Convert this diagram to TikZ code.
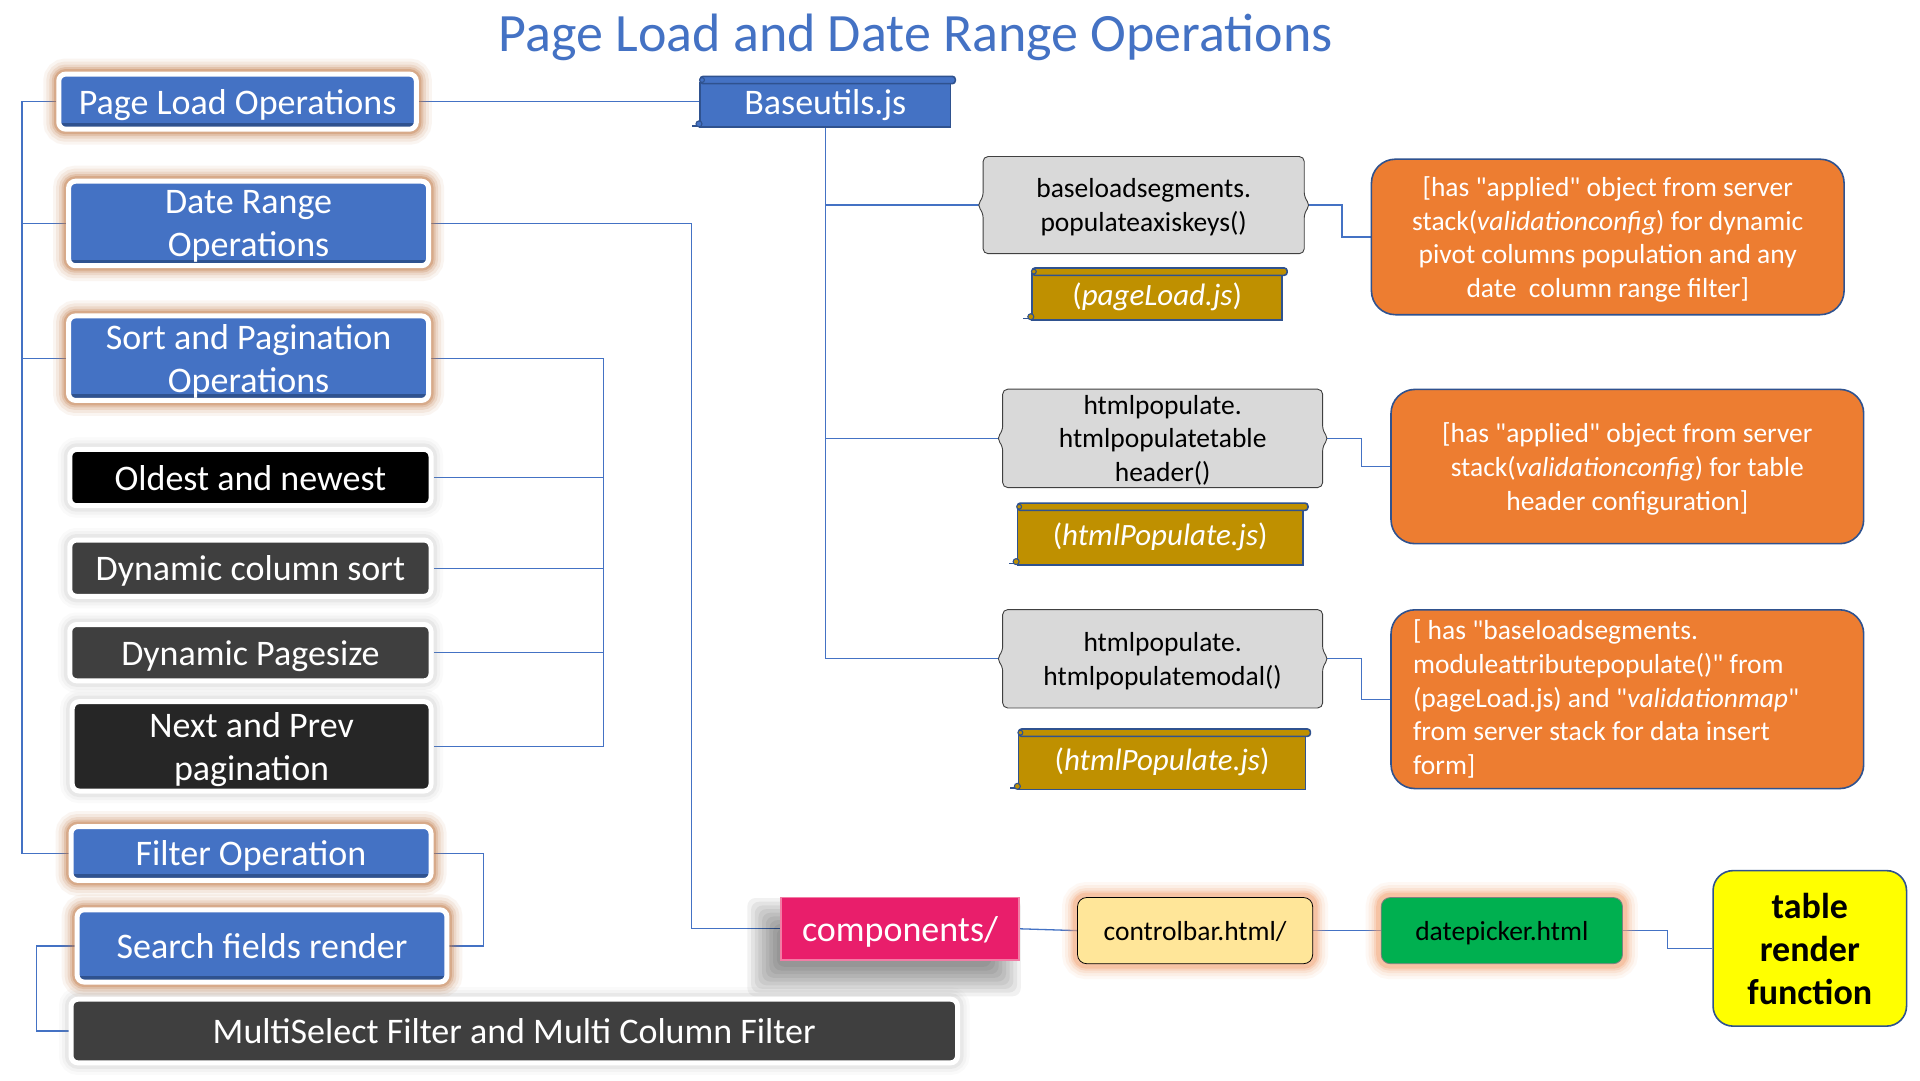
\documentclass[tikz,border=0pt]{standalone}
\usepackage{fontspec}
\setmainfont{Carlito}[Ligatures=TeXOff]
\usetikzlibrary{calc}
\newdimen\U \U=1.2245pt
\definecolor{cblue}{HTML}{4472C4}
\definecolor{cdblue}{HTML}{2F528F}
\definecolor{cglow}{HTML}{C27A45}
\definecolor{cgrayglow}{HTML}{8C8C8C}
\definecolor{cgold}{HTML}{BF9000}
\definecolor{corange}{HTML}{ED7D31}
\definecolor{cpink}{HTML}{E91E6B}
\definecolor{cpinkedge}{HTML}{F27CA5}
\definecolor{cpale}{HTML}{FFE699}
\definecolor{cpaleglow}{HTML}{F4A070}
\definecolor{cgreen}{HTML}{00B050}
\definecolor{cyellow}{HTML}{FFFF00}
\definecolor{cgrayfill}{HTML}{D9D9D9}
\definecolor{cdark}{HTML}{3F3F3F}
\definecolor{cdarker}{HTML}{262626}
\pgfdeclarelayer{connlayer}
\pgfdeclarelayer{decolayer}
\pgfsetlayers{connlayer,decolayer,main}
\newcommand\fsL{\fontsize{36}{43}\selectfont}
\newcommand\fsT{\fontsize{54}{64}\selectfont}
\newcommand\fsM{\fontsize{27.5}{33.7}\selectfont}
\newcommand\fsS{\fontsize{31}{37}\selectfont}
\newcommand\bracedraw[1]{%
  \draw[fill=cgrayfill, draw=black!75, line width=0.9pt, rounded corners=5pt]
    (#1.north west) -- (#1.north east) -- ($(#1.east)+(0,-6)$) -- ($(#1.east)+(5,0)$)
    -- ($(#1.east)+(0,6)$) -- (#1.south east) -- (#1.south west) -- ($(#1.west)+(0,6)$)
    -- ($(#1.west)+(-5,0)$) -- ($(#1.west)+(0,-6)$) -- cycle;}
\newcommand\scrolldraw[2]{%
  \draw[fill=#2, draw=cdblue, line width=1.6pt] ($(#1.north west)+(0,5)$) rectangle (#1.south east);
  \draw[fill=#2, draw=cdblue, line width=1.6pt, rounded corners=3pt] (#1.north west) rectangle ($(#1.north east)+(4,6)$);
  \draw[fill=#2, draw=cdblue, line width=1.1pt] ($(#1.north west)+(1.5,3)$) circle (2.4pt);
  \draw[draw=cdblue, line width=1.6pt] ($(#1.south west)+(0,-1)$) -- ($(#1.south west)+(-7,-1)$);
  \draw[fill=#2, draw=cdblue, line width=1.1pt] ($(#1.south west)+(-1,-2.5)$) circle (3pt);}
\tikzset{
  every node/.append style={text depth=0pt},
  conn/.style={draw=cblue, line width=1.3pt},
  glowring/.style={preaction={draw=#1, line width=31pt, draw opacity=0.07},
                   preaction={draw=#1, line width=25pt, draw opacity=0.10},
                   preaction={draw=#1, line width=19pt, draw opacity=0.15},
                   preaction={draw=#1, line width=14pt, draw opacity=0.22},
                   preaction={draw=#1, line width=10pt, draw opacity=0.32}},
  softshadow/.style={preaction={draw=#1, line width=24pt, draw opacity=0.04},
                     preaction={draw=#1, line width=18pt, draw opacity=0.06},
                     preaction={draw=#1, line width=12pt, draw opacity=0.10}},
  leftbox/.style={rectangle, rounded corners=7pt, draw=white, line width=5pt,
                  text=white, font=\fsL, align=center, inner sep=0pt},
  bluebox/.style={leftbox, glowring=cglow, fill=cblue,
    path picture={\fill[cdblue, sharp corners] ([yshift=6pt]path picture bounding box.south west) rectangle (path picture bounding box.south east);}},
  darkbox/.style={leftbox, softshadow=cgrayglow, fill=#1},
  scrollnode/.style={rectangle, draw=none, text=white, inner sep=0pt},
  bracenode/.style={rectangle, draw=none, text=black, font=\fsM, align=center, inner sep=0pt},
  obox/.style={rectangle, rounded corners=24pt, fill=corange, draw=cdblue, line width=1.6pt,
               text=white, font=\fsM, inner sep=0pt},
}
\begin{document}
\begin{tikzpicture}[x=\U, y=-\U]
\useasboundingbox (0,0) rectangle (1568,882);
\begin{pgfonlayer}{connlayer}
  \fill[white] (0,0) rectangle (1568,882);
\end{pgfonlayer}

\node[text=cblue, font=\fsT] (title) at (748,27) {Page Load and Date Range Operations};

% left column
\node[bluebox, minimum width=292*\U, minimum height=45*\U] (pl) at (194,83) {Page Load Operations};
\node[bluebox, minimum width=294*\U, minimum height=69*\U] (dr) at (203,182.5) {Date Range\\Operations};
\node[bluebox, minimum width=294*\U, minimum height=69*\U] (sp) at (203,292.5) {Sort and Pagination\\Operations};
\node[darkbox=black, minimum width=295*\U, minimum height=46*\U] (on) at (204.5,390) {Oldest and newest};
\node[darkbox=cdark, minimum width=295*\U, minimum height=46*\U] (dcs) at (204.5,464) {Dynamic column sort};
\node[darkbox=cdark, minimum width=295*\U, minimum height=46*\U] (dps) at (204.5,533) {Dynamic Pagesize};
\node[darkbox=cdarker, minimum width=293*\U, minimum height=73*\U] (np) at (205.5,609.5) {Next and Prev\\pagination};
\node[bluebox, minimum width=294*\U, minimum height=44*\U] (fo) at (205,697) {Filter Operation};
\node[bluebox, minimum width=302*\U, minimum height=59*\U] (sf) at (214,772.5) {Search fields render};
\node[darkbox=cdark, minimum width=724*\U, minimum height=52*\U] (ms) at (420,842) {MultiSelect Filter and Multi Column Filter};

% scrolls
\node[scrollnode, font=\fsL, minimum width=204*\U, minimum height=41*\U] (bu) at (674,83) {Baseutils.js};
\node[scrollnode, font=\fsS, minimum width=204*\U, minimum height=42*\U] (s1) at (945,240) {(\textit{pageLoad.js})};
\node[scrollnode, font=\fsS, minimum width=233*\U, minimum height=50*\U] (s2) at (947.5,436) {(\textit{htmlPopulate.js})};
\node[scrollnode, font=\fsS, minimum width=234*\U, minimum height=49*\U] (s3) at (949,620) {(\textit{htmlPopulate.js})};

% brace boxes
\node[bracenode, minimum width=262*\U, minimum height=79*\U] (b1) at (934,167.5) {baseloadsegments.\\populateaxiskeys()};
\node[bracenode, minimum width=261*\U, minimum height=80*\U] (b2) at (949.5,358) {htmlpopulate.\\htmlpopulatetable\\header()};
\node[bracenode, minimum width=261*\U, minimum height=80*\U] (b3) at (949.5,538) {htmlpopulate.\\htmlpopulatemodal()};

% orange notes
\node[obox, align=center, minimum width=386*\U, minimum height=127*\U] (o1) at (1313,193.5)
  {[has "applied" object from server\\stack(\textit{validationconfig}) for dynamic\\pivot columns population and any\\date\ \ column range filter]};
\node[obox, align=center, minimum width=386*\U, minimum height=126*\U] (o2) at (1329,381)
  {[has "applied" object from server\\stack(\textit{validationconfig}) for table\\header configuration]};
\node[obox, align=flush left, text depth=, text width=350*\U, minimum width=386*\U, minimum height=146*\U] (o3) at (1329,571)
  {[ has "baseloadsegments.\\moduleattributepopulate()" from\\(pageLoad.js) and "\textit{validationmap}"\\from server stack for data insert\\form]};

% bottom chain
\node[rectangle, fill=cpink, draw=cpinkedge, line width=1.5pt, text=white, font=\fsL, inner sep=0pt,
      minimum width=194*\U, minimum height=51*\U] (comp) at (735,758.5) {components/};
\node[rectangle, rounded corners=9pt, fill=cpale, draw=black, line width=0.8pt, glowring=cpaleglow,
      text=black, font=\fsM, inner sep=0pt, minimum width=192*\U, minimum height=54*\U] (cb) at (976,760) {controlbar.html/};
\node[rectangle, rounded corners=9pt, fill=cgreen, draw=black!50, line width=0.8pt, glowring=cpaleglow,
      text=black, font=\fsM, inner sep=0pt, minimum width=197*\U, minimum height=54*\U] (dp) at (1226.5,760) {datepicker.html};
\node[rectangle, rounded corners=20pt, fill=cyellow, draw=cdblue, line width=1.6pt, text=black,
      font=\fsL\bfseries, align=center, inner sep=0pt, minimum width=158*\U, minimum height=127*\U] (tr) at (1478,774.5) {table\\render\\function};

\begin{pgfonlayer}{decolayer}
  \foreach \r in {-10,-7,...,14} {
    \fill[black, fill opacity=0.055, rounded corners=8pt]
      ($(comp.north west)+(-13-\r,15-\r)$) rectangle ($(comp.south east)+(-13+\r,15+\r)$);
  }
  \scrolldraw{bu}{cblue}
  \scrolldraw{s1}{cgold}
  \scrolldraw{s2}{cgold}
  \scrolldraw{s3}{cgold}
  \bracedraw{b1}
  \bracedraw{b2}
  \bracedraw{b3}
\end{pgfonlayer}

\coordinate (lbx) at (18,0);
\coordinate (drx) at (565,0);
\coordinate (spx) at (493,0);
\coordinate (fx) at (395,0);
\coordinate (sx) at (30,0);
\coordinate (c1x) at (1096,0);
\coordinate (c2x) at (1112,0);
\coordinate (tx) at (1362,0);

\begin{pgfonlayer}{connlayer}
  \draw[conn] (pl.west) -- (pl.west -| lbx) -- (fo.west -| lbx) -- (fo.west);
  \draw[conn] (dr.west) -- (dr.west -| lbx);
  \draw[conn] (sp.west) -- (sp.west -| lbx);
  \draw[conn] (pl.east) -- (pl.east -| bu.west);
  \draw[conn] (dr.east) -- (dr.east -| drx) |- (comp.west);
  \draw[conn] (sp.east) -- (sp.east -| spx) |- (np.east);
  \draw[conn] (on.east) -- (on.east -| spx);
  \draw[conn] (dcs.east) -- (dcs.east -| spx);
  \draw[conn] (dps.east) -- (dps.east -| spx);
  \draw[conn] (fo.east) -- (fo.east -| fx) |- (sf.east);
  \draw[conn] (sf.west) -- (sf.west -| sx) |- (ms.west);
  \draw[conn] (bu.south) |- (b3.west);
  \draw[conn] (b1.west) -- (b1.west -| bu.south);
  \draw[conn] (b2.west) -- (b2.west -| bu.south);
  \draw[conn] (b1.east) -- (b1.east -| c1x) |- (o1.west);
  \draw[conn] (b2.east) -- (b2.east -| c2x) |- (o2.west);
  \draw[conn] (b3.east) -- (b3.east -| c2x) |- (o3.west);
  \draw[conn] (comp.east) -- (cb.west);
  \draw[conn] (cb.east) -- (dp.west);
  \draw[conn] (dp.east) -- (dp.east -| tx) |- (tr.west);
\end{pgfonlayer}
\end{tikzpicture}
\end{document}
